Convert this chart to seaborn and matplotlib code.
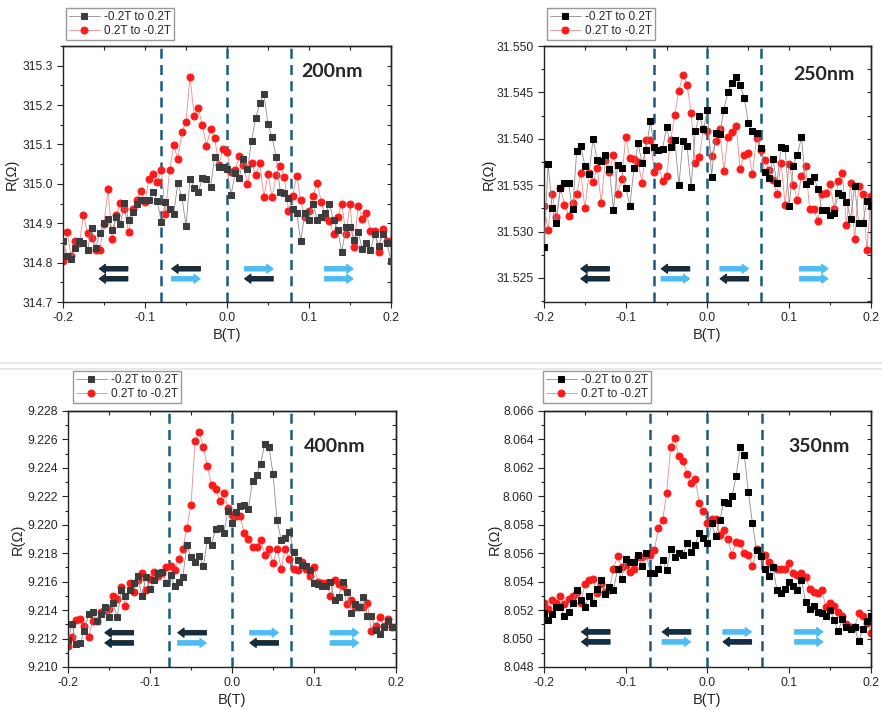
import numpy as np
import pandas as pd
import matplotlib
matplotlib.use("Agg")
import matplotlib.pyplot as plt
from matplotlib.patches import FancyArrow
from matplotlib.lines import Line2D
from matplotlib.ticker import MultipleLocator, FormatStrFormatter
import seaborn as sns

# field sweep, -0.2 T .. 0.2 T in 5 mT steps
field = np.round(np.linspace(-0.2, 0.2, 81), 3)

# 200nm
r200_up = [314.855, 314.818, 314.808, 314.837, 314.855, 314.851, 314.831, 314.888, 314.837, 314.876,
           314.900, 314.911, 314.883, 314.917, 314.897, 314.951, 314.909, 314.928, 314.948, 314.960,
           314.960, 314.960, 314.980, 314.956, 314.903, 314.954, 314.935, 314.923, 315.003, 314.966,
           314.894, 315.013, 314.989, 314.979, 315.014, 315.012, 314.993, 315.068, 315.044, 315.042,
           315.038, 314.972, 315.028, 315.016, 315.063, 315.038, 315.109, 315.167, 315.205, 315.229,
           315.151, 315.118, 315.068, 314.980, 314.977, 314.965, 314.936, 314.926, 314.856, 314.926,
           314.909, 314.948, 314.909, 314.916, 314.926, 314.949, 314.907, 314.882, 314.827, 314.890,
           314.890, 314.858, 314.878, 314.834, 314.850, 314.831, 314.873, 314.843, 314.873, 314.850,
           314.804]
r200_down = [314.803, 314.879, 314.817, 314.855, 314.850, 314.920, 314.875, 314.862, 314.833, 314.833,
             314.899, 314.986, 314.859, 314.921, 314.952, 314.935, 314.878, 314.935, 314.958, 314.983,
             314.954, 315.013, 315.025, 315.004, 315.034, 314.924, 315.034, 315.099, 315.063, 315.131,
             315.158, 315.272, 315.172, 315.192, 315.149, 315.096, 315.140, 315.117, 315.048, 315.089,
             315.080, 315.031, 315.034, 315.071, 315.047, 315.000, 315.053, 315.023, 315.052, 314.966,
             315.025, 314.966, 315.023, 315.046, 315.017, 314.931, 314.969, 315.020, 314.958, 314.917,
             314.930, 314.970, 315.002, 314.955, 314.915, 314.905, 314.872, 314.915, 314.950, 314.872,
             314.948, 314.839, 314.945, 314.910, 314.927, 314.881, 314.881, 314.827, 314.885, 314.856,
             314.856]

# 250nm
r250_up = [31.5283, 31.5373, 31.5325, 31.5309, 31.5347, 31.5352, 31.5352, 31.5324, 31.5387, 31.5392,
           31.5371, 31.5362, 31.5400, 31.5377, 31.5376, 31.5382, 31.5367, 31.5323, 31.5372, 31.5368,
           31.5347, 31.5328, 31.5368, 31.5395, 31.5374, 31.5388, 31.5419, 31.5391, 31.5388, 31.5389,
           31.5413, 31.5391, 31.5399, 31.5350, 31.5398, 31.5392, 31.5348, 31.5408, 31.5425, 31.5410,
           31.5431, 31.5359, 31.5406, 31.5405, 31.5431, 31.5450, 31.5460, 31.5467, 31.5458, 31.5444,
           31.5417, 31.5408, 31.5406, 31.5390, 31.5364, 31.5358, 31.5378, 31.5352, 31.5391, 31.5390,
           31.5328, 31.5371, 31.5383, 31.5402, 31.5351, 31.5355, 31.5359, 31.5346, 31.5323, 31.5323,
           31.5318, 31.5320, 31.5342, 31.5339, 31.5332, 31.5314, 31.5349, 31.5309, 31.5309, 31.5333,
           31.5327]
r250_down = [31.5327, 31.5302, 31.5340, 31.5316, 31.5347, 31.5329, 31.5317, 31.5331, 31.5340, 31.5363,
             31.5325, 31.5363, 31.5353, 31.5369, 31.5331, 31.5377, 31.5364, 31.5383, 31.5341, 31.5357,
             31.5402, 31.5379, 31.5378, 31.5375, 31.5352, 31.5399, 31.5399, 31.5364, 31.5371, 31.5355,
             31.5360, 31.5399, 31.5426, 31.5452, 31.5469, 31.5458, 31.5428, 31.5374, 31.5380, 31.5411,
             31.5408, 31.5381, 31.5398, 31.5411, 31.5365, 31.5402, 31.5407, 31.5414, 31.5367, 31.5383,
             31.5385, 31.5362, 31.5401, 31.5388, 31.5377, 31.5366, 31.5356, 31.5340, 31.5374, 31.5329,
             31.5373, 31.5350, 31.5334, 31.5360, 31.5371, 31.5324, 31.5324, 31.5311, 31.5341, 31.5342,
             31.5351, 31.5324, 31.5355, 31.5363, 31.5307, 31.5352, 31.5292, 31.5349, 31.5340, 31.5280,
             31.5338]

# 400nm
r400_up = [9.2119, 9.2130, 9.2116, 9.2117, 9.2125, 9.2137, 9.2139, 9.2132, 9.2137, 9.2142,
           9.2135, 9.2145, 9.2135, 9.2154, 9.2150, 9.2154, 9.2159, 9.2164, 9.2150, 9.2163,
           9.2155, 9.2161, 9.2166, 9.2167, 9.2159, 9.2165, 9.2157, 9.2160, 9.2163, 9.2186,
           9.2177, 9.2174, 9.2178, 9.2171, 9.2189, 9.2186, 9.2197, 9.2198, 9.2194, 9.2210,
           9.2201, 9.2209, 9.2213, 9.2214, 9.2211, 9.2231, 9.2235, 9.2243, 9.2257, 9.2255,
           9.2236, 9.2203, 9.2189, 9.2191, 9.2195, 9.2181, 9.2175, 9.2172, 9.2171, 9.2168,
           9.2159, 9.2158, 9.2157, 9.2157, 9.2160, 9.2147, 9.2149, 9.2160, 9.2153, 9.2138,
           9.2144, 9.2142, 9.2149, 9.2136, 9.2136, 9.2126, 9.2123, 9.2128, 9.2132, 9.2128,
           9.2128]
r400_down = [9.2115, 9.2121, 9.2133, 9.2134, 9.2129, 9.2121, 9.2132, 9.2132, 9.2139, 9.2140,
             9.2141, 9.2150, 9.2148, 9.2156, 9.2143, 9.2159, 9.2153, 9.2161, 9.2166, 9.2154,
             9.2162, 9.2167, 9.2164, 9.2166, 9.2170, 9.2171, 9.2168, 9.2176, 9.2183, 9.2198,
             9.2214, 9.2259, 9.2265, 9.2255, 9.2241, 9.2228, 9.2225, 9.2217, 9.2222, 9.2212,
             9.2207, 9.2206, 9.2206, 9.2194, 9.2190, 9.2184, 9.2184, 9.2189, 9.2179, 9.2183,
             9.2173, 9.2183, 9.2169, 9.2183, 9.2176, 9.2169, 9.2168, 9.2174, 9.2169, 9.2164,
             9.2170, 9.2160, 9.2159, 9.2159, 9.2150, 9.2161, 9.2158, 9.2157, 9.2144, 9.2147,
             9.2142, 9.2142, 9.2142, 9.2145, 9.2125, 9.2129, 9.2135, 9.2129, 9.2134, 9.2128,
             9.2128]

# 350nm
r350_up = [8.0518, 8.0513, 8.0517, 8.0522, 8.0522, 8.0516, 8.0519, 8.0525, 8.0534, 8.0527,
           8.0522, 8.0530, 8.0525, 8.0535, 8.0541, 8.0531, 8.0536, 8.0534, 8.0549, 8.0542,
           8.0556, 8.0554, 8.0554, 8.0559, 8.0551, 8.0560, 8.0546, 8.0546, 8.0549, 8.0555,
           8.0548, 8.0563, 8.0557, 8.0560, 8.0559, 8.0567, 8.0561, 8.0566, 8.0574, 8.0571,
           8.0567, 8.0581, 8.0572, 8.0583, 8.0596, 8.0595, 8.0600, 8.0614, 8.0635, 8.0629,
           8.0603, 8.0581, 8.0562, 8.0558, 8.0549, 8.0544, 8.0550, 8.0534, 8.0532, 8.0535,
           8.0540, 8.0537, 8.0534, 8.0541, 8.0526, 8.0521, 8.0523, 8.0519, 8.0518, 8.0516,
           8.0520, 8.0513, 8.0505, 8.0514, 8.0508, 8.0507, 8.0508, 8.0498, 8.0507, 8.0512,
           8.0516]
r350_down = [8.0525, 8.0521, 8.0527, 8.0525, 8.0530, 8.0524, 8.0528, 8.0530, 8.0533, 8.0525,
             8.0538, 8.0541, 8.0542, 8.0532, 8.0538, 8.0533, 8.0534, 8.0549, 8.0558, 8.0550,
             8.0552, 8.0547, 8.0549, 8.0557, 8.0557, 8.0559, 8.0559, 8.0562, 8.0578, 8.0583,
             8.0602, 8.0635, 8.0641, 8.0628, 8.0625, 8.0616, 8.0609, 8.0612, 8.0595, 8.0590,
             8.0581, 8.0584, 8.0584, 8.0573, 8.0576, 8.0570, 8.0559, 8.0568, 8.0567, 8.0560,
             8.0559, 8.0551, 8.0563, 8.0558, 8.0559, 8.0554, 8.0550, 8.0549, 8.0549, 8.0549,
             8.0553, 8.0546, 8.0545, 8.0546, 8.0543, 8.0535, 8.0533, 8.0532, 8.0534, 8.0522,
             8.0525, 8.0523, 8.0519, 8.0516, 8.0510, 8.0508, 8.0508, 8.0518, 8.0516, 8.0511,
             8.0504]

thickness = ["200nm", "250nm", "400nm", "350nm"]
switch_fields = [[-0.08, 0.0, 0.078], [-0.065, 0.0, 0.065], [-0.077, 0.0, 0.072], [-0.07, 0.0, 0.067]]
ylims = [(314.7, 315.35), (31.5224, 31.550), (9.210, 9.228), (8.048, 8.066)]
ymajor = [0.1, 0.005, 0.002, 0.002]
yfmt = ["%.1f", "%.3f", "%.3f", "%.3f"]
up_label = "-0.2T to 0.2T"
down_label = "0.2T to -0.2T"

sns.set_style("ticks")
plt.rcParams["font.family"] = ["Liberation Sans", "DejaVu Sans"]

fig = plt.figure(figsize=(8.82, 7.10), dpi=100)
ax_pos = [[0.0714, 0.5746, 0.3719, 0.3606], [0.6168, 0.5746, 0.3707, 0.3606],
          [0.0771, 0.0606, 0.3719, 0.3606], [0.6168, 0.0606, 0.3707, 0.3606]]
leg_anchor = [(0.009, 1.023), (0.009, 1.023), (0.015, 1.031), (-0.003, 1.031)]
ylab_x = [-0.135, -0.147, -0.133, -0.13]
up_colors = ["#3c3c3c", "#000000", "#3c3c3c", "#000000"]
text_pos = [(0.82, 0.90), (0.855, 0.889), (0.814, 0.862), (0.842, 0.862)]
up_data = [r200_up, r250_up, r400_up, r350_up]
down_data = [r200_down, r250_down, r400_down, r350_down]

# arrow pairs per region: top and bottom (direction, colour)
dark = "#10304a"
light = "#4bbcf4"
arrow_x = [[0.11, 0.331, 0.553, 0.797], [0.112, 0.358, 0.538, 0.781],
           [0.112, 0.334, 0.554, 0.799], [0.114, 0.361, 0.547, 0.766]]
arrow_y = [(0.13, 0.091), (0.13, 0.091), (0.134, 0.094), (0.137, 0.098)]
arrow_kind = [(("L", dark), ("L", dark)), (("L", dark), ("R", light)),
              (("R", light), ("L", dark)), (("R", light), ("R", light))]


def block_arrow(ax, x0, y, direction, color):
    length = 0.088
    hl = 0.02
    if direction == "R":
        xs, dx = x0, length
    else:
        xs, dx = x0 + length, -length
    arr = FancyArrow(xs, y, dx, 0, width=0.018, head_width=0.037, head_length=hl,
                     length_includes_head=True, transform=ax.transAxes,
                     facecolor=color, edgecolor="#1a1a1a" if color == dark else color,
                     linewidth=0.6, zorder=1, clip_on=False)
    ax.add_patch(arr)


for k in range(4):
    ax = fig.add_axes(ax_pos[k])
    df = pd.DataFrame({"B": field, "up": up_data[k], "down": down_data[k]})
    sns.lineplot(data=df, x="B", y="up", ax=ax, color="#8c8c8c", linewidth=0.6,
                 marker="s", markersize=4.2, markerfacecolor=up_colors[k],
                 markeredgecolor=up_colors[k], label=up_label, zorder=3)
    sns.lineplot(data=df, x="B", y="down", ax=ax, color="#f08a8a", linewidth=0.6,
                 marker="o", markersize=5, markerfacecolor="#ff1a1a",
                 markeredgecolor="#ff1a1a", label=down_label, zorder=2)

    for xv in switch_fields[k]:
        ax.axvline(xv, color="#1b5c80", linestyle=(0, (4, 2.5)), linewidth=1.8, zorder=1)

    for j in range(4):
        (d_top, c_top), (d_bot, c_bot) = arrow_kind[j]
        block_arrow(ax, arrow_x[k][j], arrow_y[k][0], d_top, c_top)
        block_arrow(ax, arrow_x[k][j], arrow_y[k][1], d_bot, c_bot)

    ax.text(text_pos[k][0], text_pos[k][1], thickness[k], transform=ax.transAxes,
            ha="center", va="center", fontsize=14, fontweight="bold", family="Lato")

    ax.set_xlim(-0.2, 0.2)
    ax.set_ylim(*ylims[k])
    ax.xaxis.set_major_locator(MultipleLocator(0.1))
    ax.xaxis.set_minor_locator(MultipleLocator(0.05))
    ax.xaxis.set_major_formatter(FormatStrFormatter("%.1f"))
    ax.yaxis.set_major_locator(MultipleLocator(ymajor[k]))
    ax.yaxis.set_minor_locator(MultipleLocator(ymajor[k] / 2))
    ax.yaxis.set_major_formatter(FormatStrFormatter(yfmt[k]))
    ax.tick_params(which="both", direction="out", labelsize=8.7, width=0.8, color="#222222")
    ax.tick_params(which="major", length=4)
    ax.tick_params(which="minor", length=2.5)
    sec_x = ax.secondary_xaxis("top")
    sec_x.xaxis.set_major_locator(MultipleLocator(0.1))
    sec_x.xaxis.set_minor_locator(MultipleLocator(0.05))
    sec_x.tick_params(which="both", direction="in", labeltop=False, length=3, width=0.8)
    sec_y = ax.secondary_yaxis("right")
    sec_y.yaxis.set_major_locator(MultipleLocator(ymajor[k]))
    sec_y.yaxis.set_minor_locator(MultipleLocator(ymajor[k] / 2))
    sec_y.tick_params(which="both", direction="in", labelright=False, length=3, width=0.8)
    for sp in ax.spines.values():
        sp.set_linewidth(1.0)
        sp.set_color("#222222")
    sec_x.spines["top"].set_linewidth(1.0)
    sec_y.spines["right"].set_linewidth(1.0)

    ax.set_xlabel("B(T)", fontsize=10.5)
    ax.set_ylabel("R(\u03a9)", fontsize=10.5)
    ax.xaxis.set_label_coords(0.5, -0.10)
    ax.yaxis.set_label_coords(ylab_x[k], 0.5)

    ax.legend(loc="lower left", bbox_to_anchor=leg_anchor[k], fontsize=8.5, frameon=True,
              fancybox=False, edgecolor="#999999", framealpha=1, borderpad=0.25,
              labelspacing=0.15, handlelength=2.6, handletextpad=0.4, borderaxespad=0)

# page separator between rows
fig.add_artist(Line2D([0, 1], [1 - 363 / 710, 1 - 363 / 710], color="#e4e4e4", linewidth=1.2))
fig.add_artist(Line2D([0, 1], [1 - 369 / 710, 1 - 369 / 710], color="#e4e4e4", linewidth=1.2))

fig.savefig("out.png", dpi=100)
